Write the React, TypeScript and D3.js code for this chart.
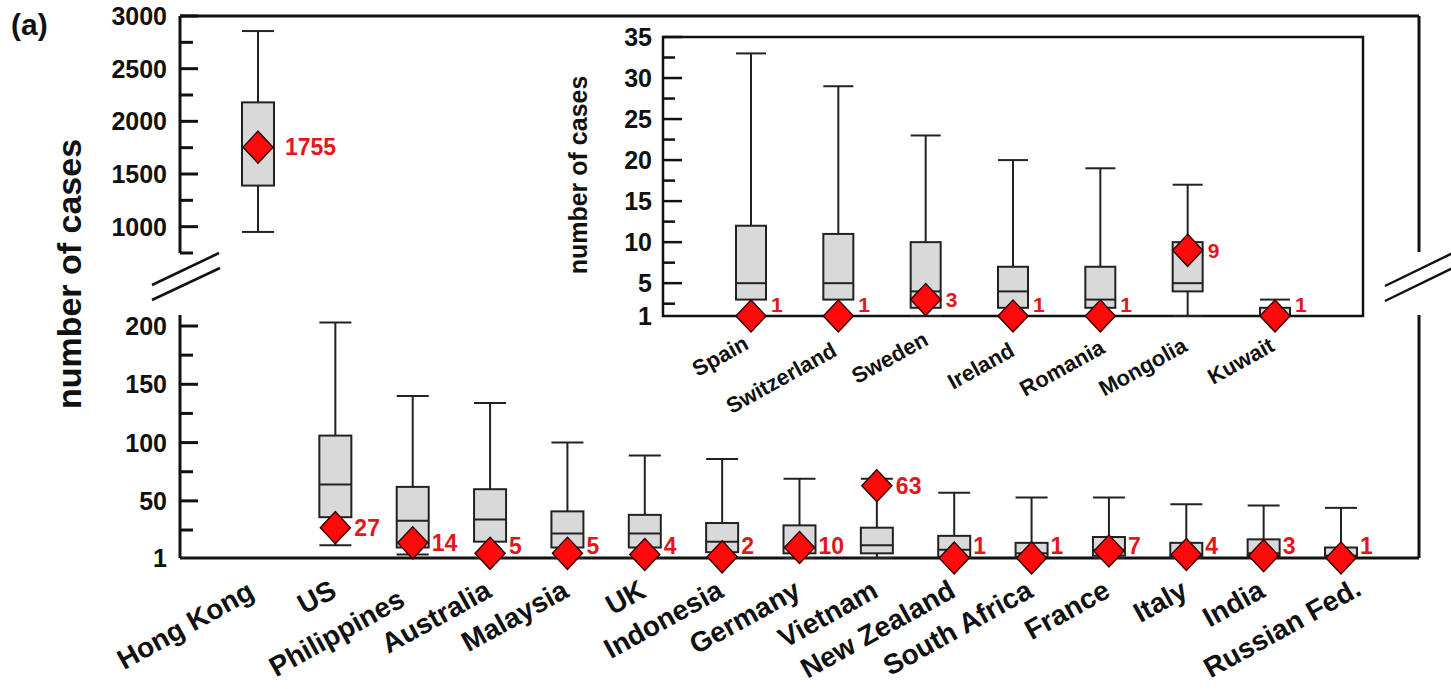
import React from "react";
import * as d3 from "d3";

// main panel: cases per country (box = quartiles, whiskers = range, diamond = observed)
const countries = ["Hong Kong", "US", "Philippines", "Australia", "Malaysia", "UK", "Indonesia", "Germany", "Vietnam", "New Zealand", "South Africa", "France", "Italy", "India", "Russian Fed."];
const whiskerLow = [950, 12, 4, 1, 1, 1, 1, 1, 1, 1, 1, 1, 1, 1, 1];
const q1 = [1390, 36, 10, 15, 10, 10, 6, 5, 5, 2, 2, 3, 2, 2, 2];
const median = [1750, 64, 33, 34, 22, 22, 15, 10, 12, 8, 5, 8, 4, 5, 3];
const q3 = [2180, 106, 62, 60, 41, 38, 31, 29, 27, 20, 14, 19, 14, 17, 10];
const whiskerHigh = [2857, 203, 140, 134, 100, 89, 86, 69, 69, 57, 53, 53, 47, 46, 44];
const observed = [1755, 27, 14, 5, 5, 4, 2, 10, 63, 1, 1, 7, 4, 3, 1];

// inset panel
const insetCountries = ["Spain", "Switzerland", "Sweden", "Ireland", "Romania", "Mongolia", "Kuwait"];
const insetWhiskerLow = [1, 1, 1, 1, 1, 1, 1];
const insetQ1 = [3, 3, 2, 2, 2, 4, 1];
const insetMedian = [5, 5, 4, 4, 3, 5, 1];
const insetQ3 = [12, 11, 10, 7, 7, 10, 2];
const insetWhiskerHigh = [33, 29, 23, 20, 19, 17, 3];
const insetObserved = [1, 1, 3, 1, 1, 9, 1];

// tick labels
const upperTicks = [1000, 1500, 2000, 2500, 3000];
const upperMinor = [750, 1250, 1750, 2250, 2750];
const lowerTicks = [50, 100, 150, 200];
const lowerMinor = [25, 75, 125, 175];
const insetTicks = [5, 10, 15, 20, 25, 30, 35];
const insetMinor = [2.5, 7.5, 12.5, 17.5, 22.5, 27.5, 32.5];

const FONT = "'Liberation Sans', Arial, Helvetica, sans-serif";
const RED = "#ff0a0a";
const LABEL_RED = "#e3161c";
const BOX_FILL = "#d9d9d9";
const INK = "#222";

const W = 1451;
const H = 689;
const axisX = 180;
const rightX = 1419;
const topY = 16;
const baseY = 558;

const diamond = "M0,-16L15,0L0,16L-15,0Z";

export default function App() {
  const x = d3.scalePoint<string>().domain(countries).range([258, 1341]);
  const yUp = d3.scaleLinear().domain([750, 3000]).range([253, topY]);
  const yLow = d3.scaleLinear().domain([1, 200]).range([baseY, 326]);

  const inL = 663, inR = 1363, inT = 37, inB = 316;
  const xi = d3.scalePoint<string>().domain(insetCountries).range([751, 1275]);
  const yi = d3.scaleLinear().domain([1, 35]).range([inB, inT]);

  // hand-placed nudges of a few rotated labels, as in the original figure
  const labelShift: Record<string, [number, number]> = {
    "Hong Kong": [-5, 1],
    "Philippines": [-9, 9],
    "Russian Fed.": [19, -2],
  };
  const insetShift: Record<string, [number, number]> = {
    "Spain": [-2, -2],
    "Switzerland": [-1, 5],
    "Sweden": [3, -6],
    "Ireland": [2, 5],
    "Romania": [5, 2],
  };

  const boxW = 32;

  const renderBox = (
    cx: number, y: (v: number) => number,
    lo: number, a: number, m: number, b: number, hi: number, w: number
  ) => (
    <g>
      <line x1={cx} x2={cx} y1={y(lo)} y2={y(hi)} stroke={INK} strokeWidth={2} />
      <line x1={cx - w / 2} x2={cx + w / 2} y1={y(hi)} y2={y(hi)} stroke={INK} strokeWidth={2} />
      <line x1={cx - w / 2} x2={cx + w / 2} y1={y(lo)} y2={y(lo)} stroke={INK} strokeWidth={2} />
      <rect x={cx - w / 2} y={y(b)} width={w} height={y(a) - y(b)} fill={BOX_FILL} stroke={INK} strokeWidth={2} />
      <line x1={cx - w / 2} x2={cx + w / 2} y1={y(m)} y2={y(m)} stroke={INK} strokeWidth={2} />
    </g>
  );

  return (
    <svg width={W} height={H} style={{ position: "absolute", left: 0, top: 0, background: "#fff" }} fontFamily={FONT} fontWeight="bold">
      <text x={11} y={35} fontSize={30} fill="#111">(a)</text>

      {/* frame */}
      <g stroke="#111" strokeWidth={3} fill="none">
        <line x1={axisX} x2={rightX} y1={topY} y2={topY} />
        <line x1={axisX} x2={axisX} y1={topY} y2={253} />
        <line x1={axisX} x2={axisX} y1={315} y2={baseY} />
        <line x1={axisX} x2={rightX} y1={baseY} y2={baseY} />
        <line x1={rightX} x2={rightX} y1={topY} y2={252} />
        <line x1={rightX} x2={rightX} y1={315} y2={baseY} />
        {/* axis breaks */}
        <line x1={152} y1={285} x2={219} y2={253} strokeWidth={2.5} />
        <line x1={152} y1={300} x2={220} y2={268} strokeWidth={2.5} />
        <line x1={1385} y1={286} x2={1455} y2={252} strokeWidth={2.5} />
        <line x1={1385} y1={301} x2={1455} y2={267} strokeWidth={2.5} />
      </g>

      {/* y axis ticks */}
      <g stroke="#111" strokeWidth={3}>
        {upperTicks.map(t => <line key={t} x1={axisX} x2={axisX + 18} y1={yUp(t)} y2={yUp(t)} />)}
        {upperMinor.map(t => <line key={t} x1={axisX} x2={axisX + 13} y1={yUp(t)} y2={yUp(t)} />)}
        {lowerTicks.map(t => <line key={t} x1={axisX} x2={axisX + 18} y1={yLow(t)} y2={yLow(t)} />)}
        {lowerMinor.map(t => <line key={t} x1={axisX} x2={axisX + 13} y1={yLow(t)} y2={yLow(t)} />)}
      </g>
      <g fontSize={25} textAnchor="end" fill="#111">
        {upperTicks.map(t => <text key={t} x={axisX - 13} y={yUp(t)} dy="0.36em">{t}</text>)}
        {[1, ...lowerTicks].map(t => <text key={t} x={axisX - 13} y={yLow(t)} dy="0.36em">{t}</text>)}
      </g>
      <text transform="translate(81,274) rotate(-90)" textAnchor="middle" fontSize={34} fill="#111">number of cases</text>

      {/* boxes */}
      {countries.map((c, i) => {
        const y = i === 0 ? yUp : yLow;
        return <g key={c}>{renderBox(x(c)!, y, whiskerLow[i], q1[i], median[i], q3[i], whiskerHigh[i], boxW)}</g>;
      })}
      {countries.map((c, i) => {
        const y = i === 0 ? yUp : yLow;
        const cy = y(observed[i]);
        const ly = i === 0 ? cy : Math.min(cy, 546);
        return (
          <g key={c}>
            <path d={diamond} transform={`translate(${x(c)},${cy})`} fill={RED} stroke="#3a0000" strokeWidth={1.5} />
            <text x={x(c)! + (i === 0 ? 27 : 19)} y={ly} dy="0.36em" fontSize={23} fill={LABEL_RED}>{observed[i]}</text>
          </g>
        );
      })}
      {countries.map(c => {
        const [dx, dy] = labelShift[c] || [0, 0];
        return (
          <text key={c} transform={`translate(${x(c)! + 3 + dx},${596 + dy}) rotate(-29)`} textAnchor="end" fontSize={28} fill="#111">{c}</text>
        );
      })}

      {/* inset */}
      <rect x={inL} y={inT} width={inR - inL} height={inB - inT} fill="#fff" stroke="#111" strokeWidth={2.5} />
      <g stroke="#111" strokeWidth={2.5}>
        {insetTicks.map(t => <line key={t} x1={inL} x2={inL + 19} y1={yi(t)} y2={yi(t)} />)}
        {insetMinor.map(t => <line key={t} x1={inL} x2={inL + 12} y1={yi(t)} y2={yi(t)} />)}
      </g>
      <g fontSize={25} textAnchor="end" fill="#111">
        {[1, ...insetTicks].map(t => <text key={t} x={inL - 11} y={yi(t)} dy="0.36em">{t}</text>)}
      </g>
      <text transform="translate(587,175) rotate(-90)" textAnchor="middle" fontSize={25} fill="#111">number of cases</text>
      {insetCountries.map((c, i) => (
        <g key={c}>{renderBox(xi(c)!, yi, insetWhiskerLow[i], insetQ1[i], insetMedian[i], insetQ3[i], insetWhiskerHigh[i], 30)}</g>
      ))}
      {insetCountries.map((c, i) => {
        const cy = yi(insetObserved[i]);
        return (
          <g key={c}>
            <path d={diamond} transform={`translate(${xi(c)},${cy})`} fill={RED} stroke="#3a0000" strokeWidth={1.5} />
            <text x={xi(c)! + 20} y={Math.min(cy, 304)} dy="0.36em" fontSize={21} fill={LABEL_RED}>{insetObserved[i]}</text>
          </g>
        );
      })}
      {insetCountries.map(c => {
        const [dx, dy] = insetShift[c] || [0, 0];
        return (
          <text key={c} transform={`translate(${xi(c)! + 1 + dx},${350 + dy}) rotate(-29)`} textAnchor="end" fontSize={22} fill="#111">{c}</text>
        );
      })}
    </svg>
  );
}
